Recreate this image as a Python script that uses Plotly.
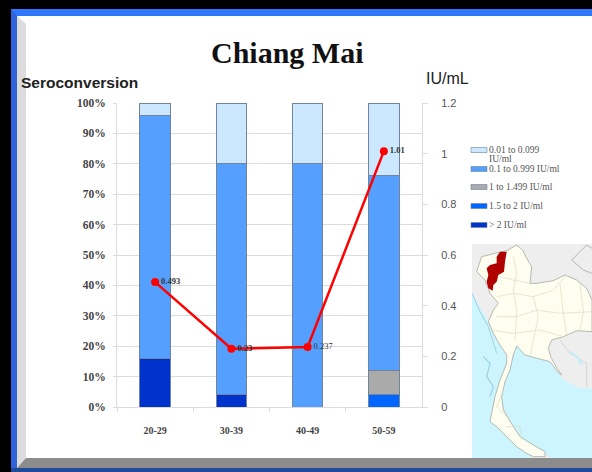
import plotly.graph_objects as go

# Seroconversion share by age group, stacked per antibody titre band
age_groups = ["20-29", "30-39", "40-49", "50-59"]
band_over_2 = [16, 4, 0, 0]
band_1_5_to_2 = [0, 0, 0, 4]
band_1_to_1_499 = [0, 0, 0, 8]
band_0_1_to_0_999 = [80, 76, 80, 64]
band_0_01_to_0_099 = [4, 20, 20, 24]

# Geometric mean titre per age group
mean_titre = [0.493, 0.23, 0.237, 1.01]
mean_titre_labels = ["<b>0.493</b>", "<b>0.23</b>", "0.237", "<b>1.01</b>"]

stack_names = ["> 2 IU/ml", "1.5 to 2 IU/ml", "1 to 1.499 IU/ml",
               "0.1 to 0.999 IU/ml", "0.01 to 0.099 IU/ml"]
stack_values = [band_over_2, band_1_5_to_2, band_1_to_1_499,
                band_0_1_to_0_999, band_0_01_to_0_099]
stack_colors = ["#0033cc", "#0066ff", "#aaaaaa", "#559fff", "#cce8ff"]

legend_labels = [["0.01 to 0.099", "IU/ml"], ["0.1 to 0.999 IU/ml"],
                 ["1 to 1.499 IU/ml"], ["1.5 to 2 IU/ml"], ["> 2 IU/ml"]]
legend_colors = ["#cce8ff", "#559fff", "#aaaaaa", "#0066ff", "#0033cc"]

W, H = 592, 472
SERIF = "Liberation Serif"
SANS = "Liberation Sans"


def px(x):
    return x / W


def py(y):
    return 1 - y / H


def rect(x0, y0, x1, y1, color, line=None, width=0):
    return dict(type="rect", xref="paper", yref="paper", layer="below",
                x0=px(x0), y0=py(y0), x1=px(x1), y1=py(y1),
                fillcolor=color, line=dict(color=line or color, width=width))


def path(points, fill=None, line=None, width=0, close=True):
    d = "M" + " L".join(f"{px(x):.5f},{py(y):.5f}" for x, y in points)
    if close:
        d += " Z"
    return dict(type="path", xref="paper", yref="paper", layer="below", path=d,
                fillcolor=fill if fill else "rgba(0,0,0,0)",
                line=dict(color=line or "rgba(0,0,0,0)", width=width))


def inset(points):
    # inset outlines are noted in a 3x grid anchored at (300, 240)
    return [(300 + x / 3, 240 + y / 3) for x, y in points]


shapes = []

# Slide frame: blue border, white panel, bevelled edges
shapes.append(rect(11, 9, 592, 472, "#2f77ff"))
shapes.append(path([(11, 9), (17, 16), (17, 468), (11, 472)], fill="#2f62dc"))
shapes.append(rect(17, 16, 592, 468, "#ffffff"))

# Inset map of Thailand with the province highlighted
sea = "#ccf5ff"
neighbours = "#eeeeee"
land = "#fdfdf0"
shapes.append(rect(472, 244, 592, 460, sea))
shapes.append(path(inset([(516, 12), (876, 12), (876, 445), (840, 445), (790, 420),
                          (760, 370), (700, 340), (650, 320), (600, 315), (565, 245),
                          (516, 160)]), fill=neighbours))
shapes.append(path(inset([(690, 652), (735, 645), (775, 660), (660, 660)]), fill=neighbours))
thailand = [(650, 15), (668, 30), (680, 55), (695, 80), (690, 130), (710, 130), (760, 122),
            (795, 105), (830, 120), (860, 145), (876, 180), (876, 275), (830, 272), (790, 290),
            (755, 300), (745, 325), (752, 350), (765, 375), (785, 405), (775, 398), (750, 365),
            (700, 352), (675, 345), (650, 318), (640, 345), (630, 390), (615, 425), (605, 470),
            (610, 510), (640, 560), (660, 590), (700, 615), (735, 635), (735, 650), (700, 650),
            (680, 640), (650, 620), (620, 590), (590, 560), (570, 545), (575, 520), (585, 470),
            (600, 420), (620, 370), (620, 345), (600, 315), (580, 280), (565, 245), (580, 210),
            (595, 190), (570, 160), (555, 120), (530, 95), (545, 50), (585, 40), (620, 32)]
shapes.append(path(inset(thailand), fill=land, line="#a8a8a0", width=0.8))

province_lines = [
    [(640, 50), (650, 100), (640, 150), (650, 210), (645, 300)],
    [(600, 110), (640, 120), (690, 130)],
    [(590, 170), (640, 160), (700, 170), (760, 150), (800, 105)],
    [(590, 230), (650, 230), (710, 210), (780, 220), (876, 215)],
    [(570, 270), (640, 280), (720, 270), (790, 290)],
    [(700, 170), (715, 230), (700, 300), (690, 350)],
    [(780, 130), (790, 220), (800, 285)],
    [(840, 130), (850, 215), (840, 272)],
    [(610, 450), (590, 500), (625, 535)],
    [(620, 560), (660, 560), (665, 600)],
]
for line_pts in province_lines:
    shapes.append(path(inset(line_pts), line="#e0ddc0", width=0.7, close=False))

# Neighbouring borders and coastal detail
shapes.append(path(inset([(815, 60), (860, 15), (876, 25)]), line="#a8a8a8", width=0.8, close=False))
shapes.append(path(inset([(815, 60), (850, 90), (876, 100)]), line="#a8a8a8", width=0.8, close=False))
shapes.append(path(inset([(780, 300), (810, 340), (860, 370), (860, 440)]), line="#cfcfcf", width=0.8, close=False))
shapes.append(path(inset([(516, 160), (540, 215), (565, 260), (590, 340)]), line="#9fd0e6", width=1, close=False))
shapes.append(path(inset([(550, 350), (570, 370), (560, 410), (580, 440), (570, 470)]),
                   line="#9fd0e6", width=1.2, close=False))
shapes.append(path(inset([(810, 335), (835, 355), (845, 375)]), line="#bfeefc", width=2, close=False))

shapes.append(path(inset([(600, 35), (620, 35), (615, 65), (612, 95), (595, 105), (590, 125),
                          (580, 135), (578, 152), (565, 145), (560, 125), (565, 105), (560, 85),
                          (570, 75), (590, 70), (590, 50)]), fill="#b00000"))

# Bevels drawn after the map so they run over its lower edge
shapes.append(path([(17, 16), (26, 24), (26, 458), (17, 468)], fill="#dcdcdc"))
shapes.append(path([(17, 468), (26, 458), (592, 458), (592, 468)], fill="#8c8c8c"))
shapes.append(rect(11, 468, 592, 472, "#1f4a99"))

# Legend swatches and captions
annotations = []
legend_rows = [150, 169, 187, 206, 225]
for lines, color, row in zip(legend_labels, legend_colors, legend_rows):
    shapes.append(rect(471, row - 2.5, 487, row + 2.5, color, line="#6b7f99", width=0.6))
    for i, line_text in enumerate(lines):
        annotations.append(dict(text=line_text, xref="paper", yref="paper", x=px(488),
                                y=py(row + i * 8.5), xanchor="left", yanchor="middle",
                                showarrow=False, align="left", borderpad=0,
                                font=dict(family=SERIF, size=9.5, color="#555555")))

annotations.extend([
    dict(text="<b>Chiang Mai</b>", xref="paper", yref="paper", x=px(287.5), y=py(52),
         xanchor="center", yanchor="middle", showarrow=False,
         font=dict(family=SERIF, size=30, color="#111111")),
    dict(text="<b>Seroconversion</b>", xref="paper", yref="paper", x=px(19), y=py(83),
         xanchor="left", yanchor="middle", showarrow=False,
         font=dict(family=SANS, size=15.5, color="#222222")),
    dict(text="IU/mL", xref="paper", yref="paper", x=px(424), y=py(78),
         xanchor="left", yanchor="middle", showarrow=False,
         font=dict(family=SANS, size=16, color="#222222")),
])

fig = go.Figure()

for name, values, color in zip(stack_names, stack_values, stack_colors):
    fig.add_trace(go.Bar(name=name, x=age_groups, y=values, marker_color=color,
                         marker_line=dict(color="#71849e", width=1), width=0.4))

fig.add_trace(go.Scatter(
    name="Mean titre", x=age_groups, y=mean_titre, yaxis="y2",
    mode="lines+markers+text", text=mean_titre_labels, textposition="middle right",
    textfont=dict(family=SERIF, size=8.5, color="#333333"),
    line=dict(color="#ff0000", width=2.5), marker=dict(color="#ff0000", size=8),
    cliponaxis=False,
))

grid = "#dcdcdc"
fig.update_layout(
    width=W, height=H, margin=dict(l=0, r=0, t=0, b=0, pad=0, autoexpand=False),
    paper_bgcolor="#000000", plot_bgcolor="rgba(0,0,0,0)",
    barmode="stack", bargap=0.6, showlegend=False,
    shapes=shapes, annotations=annotations,
    xaxis=dict(domain=[px(117), px(422)], type="category", tickson="boundaries",
               ticks="outside", ticklen=4, tickcolor=grid, showgrid=False,
               showline=True, linecolor=grid, linewidth=1, ticklabelstandoff=14,
               tickprefix="<b>", ticksuffix="</b>",
               tickfont=dict(family=SERIF, size=10, color="#444444")),
    yaxis=dict(domain=[py(407), py(103)], range=[0, 100], dtick=10,
               tickprefix="<b>", ticksuffix="%</b>",
               ticks="outside", ticklen=3, tickcolor=grid, gridcolor=grid, gridwidth=1,
               showline=True, linecolor=grid, linewidth=1, zeroline=False,
               ticklabelstandoff=5,
               tickfont=dict(family=SERIF, size=11.5, color="#444444")),
    yaxis2=dict(overlaying="y", side="right", range=[0, 1.2], dtick=0.2, tickformat="~g",
                showgrid=False, zeroline=False, ticks="outside", ticklen=5, tickcolor=grid,
                showline=True, linecolor=grid, linewidth=1, ticklabelstandoff=11,
                tickfont=dict(family=SANS, size=11, color="#555555")),
)

fig.write_html("out.html")
